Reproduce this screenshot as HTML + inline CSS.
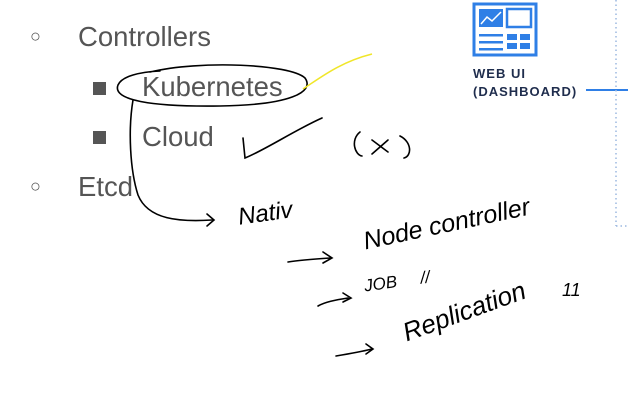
<!DOCTYPE html>
<html><head><meta charset="utf-8"><style>
body{margin:0;width:628px;height:412px;background:#fff;overflow:hidden;position:relative;font-family:"Liberation Sans",sans-serif}
.t{position:absolute;color:#555;font-size:27.5px;line-height:1}
.b{position:absolute;color:#555}
.h{position:absolute;font-family:"Liberation Sans",sans-serif;color:#000;font-size:19px;font-style:italic;white-space:nowrap}
</style></head><body>
<div class="b" style="left:30px;top:26px;font-size:18px">○</div>
<div class="t" style="left:78px;top:23px">Controllers</div>
<div class="b" style="left:93px;top:82px;width:13px;height:13px;background:#555"></div>
<div class="t" style="left:142px;top:73px">Kubernetes</div>
<div class="b" style="left:93px;top:131px;width:13px;height:13px;background:#555"></div>
<div class="t" style="left:142px;top:123px">Cloud</div>
<div class="b" style="left:30px;top:176px;font-size:18px">○</div>
<div class="t" style="left:78px;top:173px">Etcd</div>

<div style="position:absolute;left:473px;top:65px;font-size:13px;font-weight:bold;color:#1f2d4d;letter-spacing:1px;line-height:18px">WEB UI<br>(DASHBOARD)</div>

<div class="h" style="left:238px;top:200px;font-size:24px;transform:rotate(-8deg)">Nativ</div>
<div class="h" style="left:362px;top:210px;font-size:25px;transform:rotate(-12deg)">Node controller</div>
<div class="h" style="left:364px;top:272px;font-size:17px;transform:rotate(-8deg)">JOB &nbsp;&nbsp;&nbsp;&nbsp;//</div>
<div class="h" style="left:400px;top:296px;font-size:26px;transform:rotate(-20deg)">Replication</div>
<div class="h" style="left:562px;top:280px;font-size:18px">11</div>

<svg width="628" height="412" style="position:absolute;left:0;top:0">
<rect x="474" y="4" width="62" height="51" fill="none" stroke="#2f7fe6" stroke-width="3"/>
<rect x="479" y="9" width="24" height="18" fill="#2f7fe6"/>
<polyline points="481,24 487,17 492,21 501,12" fill="none" stroke="#fff" stroke-width="1.5"/>
<rect x="507" y="9" width="24" height="18" fill="none" stroke="#2f7fe6" stroke-width="2.5"/>
<rect x="479" y="34" width="24" height="2.5" fill="#2f7fe6"/>
<rect x="479" y="41" width="24" height="2.5" fill="#2f7fe6"/>
<rect x="479" y="48" width="24" height="2.5" fill="#2f7fe6"/>
<rect x="507" y="34" width="10" height="6" fill="#2f7fe6"/><rect x="520" y="34" width="10" height="6" fill="#2f7fe6"/>
<rect x="507" y="43" width="10" height="6" fill="#2f7fe6"/><rect x="520" y="43" width="10" height="6" fill="#2f7fe6"/>
<line x1="586" y1="90" x2="628" y2="90" stroke="#2f7fe6" stroke-width="2"/>
<line x1="616" y1="0" x2="616" y2="226" stroke="#9bb8e0" stroke-width="1.5" stroke-dasharray="1.5,3"/>
<line x1="616" y1="226" x2="628" y2="226" stroke="#9bb8e0" stroke-width="1.5" stroke-dasharray="1.5,3"/>
<g fill="none" stroke="#000" stroke-width="1.6" stroke-linecap="round">
<path d="M150,72 C200,60 290,64 305,78 C315,92 290,105 220,106 C150,107 112,100 118,85 C122,76 140,72 160,71"/>
<path d="M133,100 C128,130 130,170 138,195 C148,220 180,222 212,220"/>
<path d="M207,214 L214,220 L207,226"/>
<path d="M243,138 L245,158 C265,150 295,130 322,118"/>
<path d="M360,132 C350,140 355,155 362,156 M400,136 C412,142 412,156 404,158 M372,140 L388,152 M388,140 L372,154"/>
<path d="M288,262 C300,260 315,259 330,258 M323,252 L332,258 L323,263"/>
<path d="M318,306 C325,302 335,300 348,298 M343,293 L351,298 L343,302"/>
<path d="M336,356 C348,354 360,352 372,349 M366,344 L373,349 L366,354"/>
</g>
<path d="M303,89 C320,78 340,62 372,54" fill="none" stroke="#f0e62a" stroke-width="1.5"/>
</svg>
</body></html>
